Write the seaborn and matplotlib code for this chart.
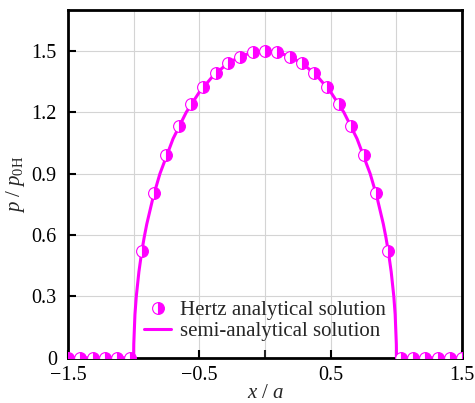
import matplotlib
matplotlib.use("Agg")
import matplotlib.pyplot as plt
import seaborn as sns
import pandas as pd
from matplotlib.lines import Line2D

# Hertz analytical solution (markers)
hertz_x = [-1.5, -1.40625, -1.3125, -1.21875, -1.125, -1.03125,
           -0.9375, -0.84375, -0.75, -0.65625, -0.5625, -0.46875, -0.375, -0.28125, -0.1875, -0.09375,
           0.0,
           0.09375, 0.1875, 0.28125, 0.375, 0.46875, 0.5625, 0.65625, 0.75, 0.84375, 0.9375,
           1.03125, 1.125, 1.21875, 1.3125, 1.40625, 1.5]
hertz_y = [0, 0, 0, 0, 0, 0,
           0.522, 0.805, 0.992, 1.132, 1.240, 1.325, 1.391, 1.439, 1.473, 1.493,
           1.500,
           1.493, 1.473, 1.439, 1.391, 1.325, 1.240, 1.132, 0.992, 0.805, 0.522,
           0, 0, 0, 0, 0, 0]

# semi-analytical solution (line)
semi_x = [-1.5, -1.0, -0.9999, -0.999, -0.99, -0.98, -0.96, -0.94, -0.92, -0.9, -0.85, -0.8,
          -0.7, -0.6, -0.5, -0.4, -0.3, -0.2, -0.1, 0.0,
          0.1, 0.2, 0.3, 0.4, 0.5, 0.6, 0.7, 0.8, 0.85, 0.9, 0.92, 0.94, 0.96, 0.98, 0.99,
          0.999, 0.9999, 1.0, 1.5]
semi_y = [0, 0, 0.021, 0.067, 0.212, 0.299, 0.420, 0.512, 0.588, 0.654, 0.790, 0.900,
          1.071, 1.200, 1.299, 1.375, 1.431, 1.470, 1.493, 1.500,
          1.493, 1.470, 1.431, 1.375, 1.299, 1.200, 1.071, 0.900, 0.790, 0.654, 0.588, 0.512, 0.420, 0.299, 0.212,
          0.067, 0.021, 0, 0]

xticks = [-1.5, -0.5, 0.5, 1.5]
xminor = [-1.0, 0.0, 1.0]
yticks = [0, 0.3, 0.6, 0.9, 1.2, 1.5]
ytick_labels = ["0", "0.3", "0.6", "0.9", "1.2", "1.5"]

sns.set_theme(style="white")
plt.rcParams['font.family'] = ['Liberation Serif', 'DejaVu Serif']
plt.rcParams['mathtext.fontset'] = 'custom'
plt.rcParams['mathtext.rm'] = 'Liberation Serif'
plt.rcParams['mathtext.it'] = 'Liberation Serif:italic'

MAG = '#ff00ff'

fig = plt.figure(figsize=(4.75, 4.03), dpi=100)
ax = fig.add_axes([0.143, 0.112, 0.830, 0.863])

df_line = pd.DataFrame({'x': semi_x, 'y': semi_y})
df_pts = pd.DataFrame({'x': hertz_x, 'y': hertz_y})

sns.lineplot(data=df_line, x='x', y='y', ax=ax, color=MAG, lw=2.2, sort=False,
             estimator=None, zorder=3)
sns.lineplot(data=df_pts, x='x', y='y', ax=ax, color=MAG, linestyle='', marker='o',
             markersize=8.5, fillstyle='right', markeredgecolor=MAG, markerfacecolor=MAG,
             markerfacecoloralt='white', markeredgewidth=0.8, sort=False, estimator=None, zorder=4)

ax.set_xlim(-1.5, 1.5)
ax.set_ylim(0, 1.7)
ax.set_xticks(xticks)
ax.set_xticks(xminor, minor=True)
ax.set_xticklabels(["\u22121.5", "\u22120.5", "0.5", "1.5"])
ax.set_yticks(yticks)
ax.set_yticklabels(ytick_labels)

ax.grid(True, which='both', axis='x', color='#d4d4d4', lw=0.8)
ax.grid(True, which='major', axis='y', color='#d4d4d4', lw=0.8)
ax.set_axisbelow(True)

ax.tick_params(axis='x', which='major', direction='in', length=6, width=1.5,
               labelsize=14.5, colors='black', pad=6, bottom=True)
ax.tick_params(axis='y', which='major', direction='in', length=6, width=1.5,
               labelsize=14.5, colors='black', pad=8, left=True)
ax.tick_params(axis='x', which='minor', direction='in', length=6, width=1.5, bottom=True)
for sp in ax.spines.values():
    sp.set_visible(True)
    sp.set_color('black')
    sp.set_linewidth(2)

ax.set_xlabel(r'$x\ /\ a$', fontsize=15, labelpad=-1)
ax.set_ylabel(r'$p\ /\ p_{\rm 0H}$', fontsize=15, labelpad=3)

handles = [
    Line2D([], [], linestyle='', marker='o', markersize=8.5, fillstyle='right',
           markeredgecolor=MAG, markerfacecolor=MAG, markerfacecoloralt='white', markeredgewidth=0.8),
    Line2D([], [], color=MAG, lw=2.2),
]
ax.legend(handles, ['Hertz analytical solution', 'semi-analytical solution'],
          loc='lower center', bbox_to_anchor=(0.5, 0.025), frameon=False, fontsize=15,
          handlelength=1.3, handletextpad=0.4, labelspacing=0.05, borderaxespad=0)

fig.savefig('out.png', dpi=100)
